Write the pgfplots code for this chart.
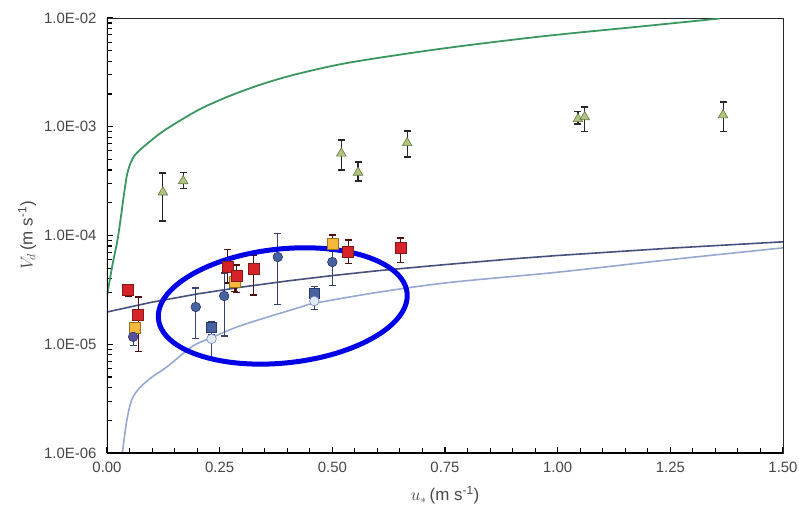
\documentclass[border=0pt]{standalone}
\usepackage{fontspec}
\setmainfont{Liberation Sans}
\usepackage{pgfplots}
\pgfplotsset{compat=1.18}
\definecolor{gline}{RGB}{60,150,95}
\definecolor{dline}{RGB}{70,80,125}
\definecolor{lline}{RGB}{150,168,210}
\definecolor{trifill}{RGB}{178,196,130}
\definecolor{triedge}{RGB}{100,118,60}
\definecolor{redfill}{RGB}{215,35,40}
\definecolor{rededge}{RGB}{130,25,25}
\definecolor{orfill}{RGB}{246,185,60}
\definecolor{oredge}{RGB}{160,110,30}
\definecolor{dbfill}{RGB}{72,98,160}
\definecolor{dbedge}{RGB}{40,55,110}
\definecolor{lbfill}{RGB}{225,233,245}
\definecolor{lbedge}{RGB}{110,135,185}
\definecolor{pufill}{RGB}{90,80,160}
\definecolor{errblue}{RGB}{55,65,110}
\definecolor{tickgray}{RGB}{70,70,70}
\definecolor{ellblue}{RGB}{0,0,230}
\begin{document}
\begin{tikzpicture}
\useasboundingbox (-107bp,-60bp) rectangle (692bp,453bp);
\begin{axis}[at={(0,0)}, anchor=south west, scale only axis,
  width=676bp, height=435bp,
  xmin=0, xmax=1.5, ymode=log, ymin=1e-6, ymax=1e-2,
  xtick={0,0.25,0.5,0.75,1,1.25,1.5},
  xticklabels={0.00,0.25,0.50,0.75,1.00,1.25,1.50},
  minor x tick num=4,
  ytick={1e-6,1e-5,1e-4,1e-3,1e-2},
  yticklabels={1.0E-06,1.0E-05,1.0E-04,1.0E-03,1.0E-02},
  tick pos=left, tick align=inside,
  major tick length=6bp, minor tick length=5bp,
  major tick style={black, line width=1.1bp},
  minor tick style={black, line width=1.1bp},
  axis line style={black!85, line width=0.8bp},
  xticklabel style={font=\fontsize{15}{17}\selectfont\color{tickgray}, yshift=-6bp},
  yticklabel style={font=\fontsize{15}{17}\selectfont\color{tickgray}, xshift=-7bp},
  xlabel={$u_{*}$\,(m s\textsuperscript{-1})},
  ylabel={$V_d$\,(m s\textsuperscript{-1})},
  xlabel style={font=\fontsize{17}{19}\selectfont\color{tickgray}, at={(axis description cs:0.5,-0.097)}, anchor=center},
  ylabel style={font=\fontsize{17}{19}\selectfont\color{tickgray}, at={(axis description cs:-0.118,0.5)}, anchor=center},
]
% model curves
\addplot[gline, line width=1.8bp, smooth] coordinates {
 (0,2.8e-5) (0.013,5.6e-5) (0.022,8.5e-5) (0.029,1.3e-4) (0.040,2.8e-4) (0.047,4.0e-4)
 (0.062,5.5e-4) (0.1,7.6e-4) (0.133,9.6e-4) (0.206,1.45e-3) (0.28,1.98e-3) (0.355,2.55e-3)
 (0.428,3.1e-3) (0.539,3.9e-3) (0.739,5.2e-3) (0.961,6.75e-3) (1.183,8.35e-3) (1.36,9.9e-3)};
\addplot[dline, line width=1.6bp] coordinates {
 (0,1.98e-5) (0.1,2.44e-5) (0.2,2.9e-5) (0.3,3.36e-5) (0.4,3.82e-5) (0.5,4.28e-5)
 (0.6,4.74e-5) (0.75,5.4e-5) (0.9,6.1e-5) (1.0,6.55e-5) (1.25,7.65e-5) (1.5,8.75e-5)};
\addplot[lline, line width=1.6bp, smooth] coordinates {
 (0.031,8e-7) (0.035,1.07e-6) (0.044,2.0e-6) (0.055,3.1e-6) (0.073,4.0e-6) (0.1,5.0e-6)
 (0.133,6.2e-6) (0.19,9.6e-6) (0.232,1.15e-5) (0.3,1.5e-5) (0.43,2.2e-5) (0.46,2.38e-5)
 (0.6,3.0e-5) (0.76,3.7e-5) (1.0,4.6e-5) (1.25,6.0e-5) (1.5,7.7e-5)};
% green triangles
\addplot[only marks, mark=triangle*, mark size=5.5bp,
  mark options={fill=trifill, draw=triedge, line width=0.6bp},
  error bars/.cd, y dir=both, y explicit,
  error bar style={black!85, line width=1.1bp},
  error mark options={black!85, line width=1.1bp, mark size=3.5bp, rotate=90}]
 table[x=x, y=y, y error plus=ep, y error minus=em] {
x y ep em
0.124 2.50e-4 1.26e-4 1.14e-4
0.169 3.17e-4 0.66e-4 0.44e-4
0.520 5.70e-4 1.85e-4 1.70e-4
0.557 3.80e-4 0.94e-4 0.63e-4
0.666 7.10e-4 2.04e-4 1.83e-4
1.045 1.18e-3 0.19e-3 0.12e-3
1.060 1.23e-3 0.29e-3 0.32e-3
1.367 1.28e-3 0.41e-3 0.37e-3
};
% red squares
\addplot[only marks, mark=square*, mark size=5.5bp,
  mark options={fill=redfill, draw=rededge, line width=0.6bp},
  error bars/.cd, y dir=both, y explicit,
  error bar style={rededge!60!black, line width=1.1bp},
  error mark options={rededge!60!black, line width=1.1bp, mark size=3.5bp, rotate=90}]
 table[x=x, y=y, y error plus=ep, y error minus=em] {
x y ep em
0.047 3.15e-5 0.30e-5 0.37e-5
0.069 1.86e-5 0.86e-5 1.01e-5
0.268 5.13e-5 2.37e-5 1.47e-5
0.326 4.92e-5 1.70e-5 2.08e-5
0.535 7.05e-5 2.05e-5 1.47e-5
0.652 7.67e-5 1.81e-5 1.97e-5
};
% orange squares
\addplot[only marks, mark=square*, mark size=5.5bp,
  mark options={fill=orfill, draw=oredge, line width=0.6bp},
  error bars/.cd, y dir=both, y explicit,
  error bar style={rededge!60!black, line width=1.1bp},
  error mark options={rededge!60!black, line width=1.1bp, mark size=3.5bp, rotate=90}]
 table[x=x, y=y, y error plus=ep, y error minus=em] {
x y ep em
0.062 1.41e-5 0 0
0.284 3.73e-5 0.50e-5 0.70e-5
0.501 8.35e-5 1.75e-5 1.00e-5
};
\addplot[only marks, mark=square*, mark size=5.5bp,
  mark options={fill=redfill, draw=rededge, line width=0.6bp},
  error bars/.cd, y dir=both, y explicit,
  error bar style={rededge!60!black, line width=1.1bp},
  error mark options={rededge!60!black, line width=1.1bp, mark size=3.5bp, rotate=90}]
 table[x=x, y=y, y error plus=ep, y error minus=em] {
x y ep em
0.288 4.25e-5 1.11e-5 1.23e-5
};
% dark blue circles
\addplot[only marks, mark=*, mark size=4.8bp,
  mark options={fill=dbfill, draw=dbedge, line width=0.6bp},
  error bars/.cd, y dir=both, y explicit,
  error bar style={errblue, line width=1.1bp},
  error mark options={errblue, line width=1.1bp, mark size=3.5bp, rotate=90}]
 table[x=x, y=y, y error plus=ep, y error minus=em] {
x y ep em
0.197 2.20e-5 1.09e-5 1.08e-5
0.260 2.78e-5 1.74e-5 1.59e-5
0.379 6.34e-5 4.16e-5 4.00e-5
0.500 5.70e-5 1.50e-5 2.20e-5
};
% dark blue squares
\addplot[only marks, mark=square*, mark size=4.8bp,
  mark options={fill=dbfill, draw=dbedge, line width=0.6bp},
  error bars/.cd, y dir=both, y explicit,
  error bar style={errblue, line width=1.1bp},
  error mark options={errblue, line width=1.1bp, mark size=3.5bp, rotate=90}]
 table[x=x, y=y, y error plus=ep, y error minus=em] {
x y ep em
0.232 1.44e-5 0.18e-5 0.20e-5
0.460 2.96e-5 0.44e-5 0.30e-5
};
% purple circle
\addplot[only marks, mark=*, mark size=4.8bp,
  mark options={fill=pufill, draw=dbedge, line width=0.6bp},
  error bars/.cd, y dir=both, y explicit,
  error bar style={errblue, line width=1.1bp},
  error mark options={errblue, line width=1.1bp, mark size=3.5bp, rotate=90}]
 table[x=x, y=y, y error plus=ep, y error minus=em] {
x y ep em
0.058 1.17e-5 0.19e-5 0.19e-5
};
% light circles
\addplot[only marks, mark=*, mark size=4.8bp,
  mark options={fill=lbfill, draw=lbedge, line width=0.6bp},
  error bars/.cd, y dir=both, y explicit,
  error bar style={errblue, line width=1.1bp},
  error mark options={errblue, line width=1.1bp, mark size=3.5bp, rotate=90}]
 table[x=x, y=y, y error plus=ep, y error minus=em] {
x y ep em
0.232 1.12e-5 0.10e-5 0.36e-5
0.460 2.50e-5 0.10e-5 0.43e-5
};
% highlight ellipse
\draw[ellblue, line width=5bp] (axis cs:0.39,2.25e-5) ellipse [x radius=125bp, y radius=57bp, rotate=6];
% thick left and bottom axis lines
\draw[black, line width=2bp] (rel axis cs:0,1) -- (rel axis cs:0,0) -- (rel axis cs:1,0);
\end{axis}
\end{tikzpicture}
\end{document}
